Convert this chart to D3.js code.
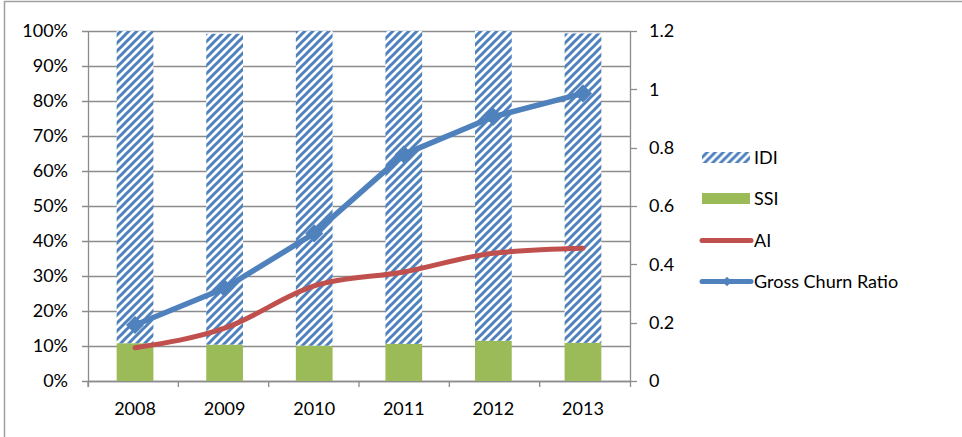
<!DOCTYPE html>
<html lang="en">
<head>
<meta charset="UTF-8">
<title>IDI / SSI / AI / Gross Churn Ratio</title>
<style>
  body { margin: 0; background: #fff; }
  text { font-family: Lato, "Open Sans", sans-serif; font-size: 18px; fill: #000; }
</style>
</head>
<body>
<script src="https://cdn.jsdelivr.net/npm/d3@7"></script>
<script>
var years = ["2008", "2009", "2010", "2011", "2012", "2013"];
// share of total (left axis)
var ssi = [0.108, 0.104, 0.101, 0.106, 0.115, 0.109];
var idi = [0.892, 0.888, 0.899, 0.894, 0.885, 0.884];
// ratios (right axis)
var ai = [0.114, 0.181, 0.326, 0.374, 0.438, 0.455];
var grossChurn = [0.192, 0.318, 0.506, 0.777, 0.906, 0.986];
var leftTicks = [0, 0.1, 0.2, 0.3, 0.4, 0.5, 0.6, 0.7, 0.8, 0.9, 1];
var rightTicks = [0, 0.2, 0.4, 0.6, 0.8, 1, 1.2];

var w = 962, h = 437,
    plotLeft = 88, plotRight = 630, plotTop = 31, plotBottom = 381,
    gridColor = "#8c8c8c",
    blue = "#4f81bd", green = "#9bbb59", red = "#c0504d";

var svg = d3.select("body").append("svg")
    .attr("width", w)
    .attr("height", h);

// hatched fill for IDI
var pat = svg.append("defs").append("pattern")
    .attr("id", "hatch")
    .attr("patternUnits", "userSpaceOnUse")
    .attr("width", 8)
    .attr("height", 8);
pat.append("rect").attr("width", 8).attr("height", 8).attr("fill", "#fff");
pat.append("path")
    .attr("d", "M-1,9 L9,-1 M-2,2 L2,-2 M6,10 L10,6")
    .attr("stroke", blue)
    .attr("stroke-width", 3);

// outer frame (left and top edges visible)
svg.append("line").attr("x1", 4.5).attr("x2", 4.5).attr("y1", 1).attr("y2", h)
    .attr("stroke", "#a0a0a0").attr("stroke-width", 1.5);
svg.append("line").attr("x1", 4).attr("x2", w).attr("y1", 1.5).attr("y2", 1.5)
    .attr("stroke", "#a0a0a0").attr("stroke-width", 1.5);

var x = d3.scaleBand().domain(years).range([plotLeft, plotRight])
    .paddingInner(0.59).paddingOuter(0.32);
var yL = d3.scaleLinear().domain([0, 1]).range([plotBottom, plotTop]);
var yR = d3.scaleLinear().domain([0, 1.2]).range([plotBottom, plotTop]);

// gridlines
svg.selectAll("line.grid")
    .data(leftTicks)
    .enter()
    .append("line")
    .attr("class", "grid")
    .attr("x1", plotLeft - 6)
    .attr("x2", plotRight)
    .attr("y1", function(d) { return Math.round(yL(d)) + 0.5; })
    .attr("y2", function(d) { return Math.round(yL(d)) + 0.5; })
    .attr("stroke", gridColor)
    .attr("stroke-width", 1.3);

// left axis
svg.append("line").attr("x1", plotLeft + 0.5).attr("x2", plotLeft + 0.5)
    .attr("y1", plotTop).attr("y2", plotBottom + 6)
    .attr("stroke", gridColor).attr("stroke-width", 1.3);
svg.selectAll("text.yl")
    .data(leftTicks)
    .enter()
    .append("text")
    .attr("class", "yl")
    .attr("x", 68)
    .attr("y", function(d) { return yL(d); })
    .attr("dy", "0.36em")
    .attr("text-anchor", "end")
    .text(function(d) { return d3.format(".0%")(d); });

// right axis
svg.append("line").attr("x1", plotRight + 0.5).attr("x2", plotRight + 0.5)
    .attr("y1", plotTop).attr("y2", plotBottom + 6)
    .attr("stroke", gridColor).attr("stroke-width", 1.3);
svg.selectAll("line.rt")
    .data(rightTicks)
    .enter()
    .append("line")
    .attr("class", "rt")
    .attr("x1", plotRight)
    .attr("x2", plotRight + 7)
    .attr("y1", function(d) { return Math.round(yR(d)) + 0.5; })
    .attr("y2", function(d) { return Math.round(yR(d)) + 0.5; })
    .attr("stroke", gridColor)
    .attr("stroke-width", 1.3);
svg.selectAll("text.yr")
    .data(rightTicks)
    .enter()
    .append("text")
    .attr("class", "yr")
    .attr("x", 649)
    .attr("y", function(d) { return yR(d); })
    .attr("dy", "0.36em")
    .text(function(d) { return d; });

// bottom axis
var step = (plotRight - plotLeft) / years.length;
svg.append("line").attr("x1", plotLeft).attr("x2", plotRight)
    .attr("y1", plotBottom + 0.5).attr("y2", plotBottom + 0.5)
    .attr("stroke", gridColor).attr("stroke-width", 1.3);
svg.selectAll("line.xt")
    .data(years)
    .enter()
    .append("line")
    .attr("class", "xt")
    .attr("x1", function(d, i) { return plotLeft + i * step; })
    .attr("x2", function(d, i) { return plotLeft + i * step; })
    .attr("y1", plotBottom)
    .attr("y2", plotBottom + 6)
    .attr("stroke", gridColor)
    .attr("stroke-width", 1.3);
svg.selectAll("text.xl")
    .data(years)
    .enter()
    .append("text")
    .attr("class", "xl")
    .attr("x", function(d) { return x(d) + x.bandwidth() / 2; })
    .attr("y", 415)
    .attr("text-anchor", "middle")
    .text(function(d) { return d; });

// stacked bars
svg.selectAll("rect.ssi")
    .data(years)
    .enter()
    .append("rect")
    .attr("class", "ssi")
    .attr("x", function(d) { return x(d); })
    .attr("width", x.bandwidth())
    .attr("y", function(d, i) { return yL(ssi[i]); })
    .attr("height", function(d, i) { return yL(0) - yL(ssi[i]); })
    .attr("fill", green);

svg.selectAll("rect.idi")
    .data(years)
    .enter()
    .append("rect")
    .attr("class", "idi")
    .attr("x", function(d) { return x(d); })
    .attr("width", x.bandwidth())
    .attr("y", function(d, i) { return yL(ssi[i] + idi[i]); })
    .attr("height", function(d, i) { return yL(ssi[i]) - yL(ssi[i] + idi[i]); })
    .attr("fill", "url(#hatch)");

// lines
var cx = function(i) { return x(years[i]) + x.bandwidth() / 2; };

var aiLine = d3.line()
    .x(function(d, i) { return cx(i); })
    .y(function(d) { return yR(d); })
    .curve(d3.curveMonotoneX);
svg.append("path")
    .attr("d", aiLine(ai))
    .attr("fill", "none")
    .attr("stroke", red)
    .attr("stroke-width", 5)
    .attr("stroke-linecap", "round");

var gcrLine = d3.line()
    .x(function(d, i) { return cx(i); })
    .y(function(d) { return yR(d); });
svg.append("path")
    .attr("d", gcrLine(grossChurn))
    .attr("fill", "none")
    .attr("stroke", blue)
    .attr("stroke-width", 5.5)
    .attr("stroke-linejoin", "round");

var diamond = d3.symbol().type(d3.symbolDiamond2).size(210);
svg.selectAll("path.mk")
    .data(grossChurn)
    .enter()
    .append("path")
    .attr("class", "mk")
    .attr("d", diamond)
    .attr("transform", function(d, i) { return "translate(" + cx(i) + "," + yR(d) + ")"; })
    .attr("fill", blue);

// legend
var legendItems = ["IDI", "SSI", "AI", "Gross Churn Ratio"];
var legendY = [157.5, 198.5, 240.5, 281.5];
var lg = svg.selectAll("g.lg")
    .data(legendItems)
    .enter()
    .append("g")
    .attr("class", "lg")
    .attr("transform", function(d, i) { return "translate(702," + legendY[i] + ")"; });

lg.filter(function(d, i) { return i < 2; })
    .append("rect")
    .attr("x", 0)
    .attr("y", -5.5)
    .attr("width", 48)
    .attr("height", 11)
    .attr("fill", function(d, i) { return i === 0 ? "url(#hatch)" : green; });

lg.filter(function(d, i) { return i >= 2; })
    .append("line")
    .attr("x1", 0)
    .attr("x2", 49)
    .attr("stroke", function(d) { return d === "AI" ? red : blue; })
    .attr("stroke-width", 5)
    .attr("stroke-linecap", "round");

lg.filter(function(d) { return d === "Gross Churn Ratio"; })
    .append("path")
    .attr("d", d3.symbol().type(d3.symbolDiamond2).size(60))
    .attr("transform", "translate(25,0)")
    .attr("fill", blue);

lg.append("text")
    .attr("x", 52)
    .attr("dy", "0.36em")
    .text(function(d) { return d; });
</script>
</body>
</html>
